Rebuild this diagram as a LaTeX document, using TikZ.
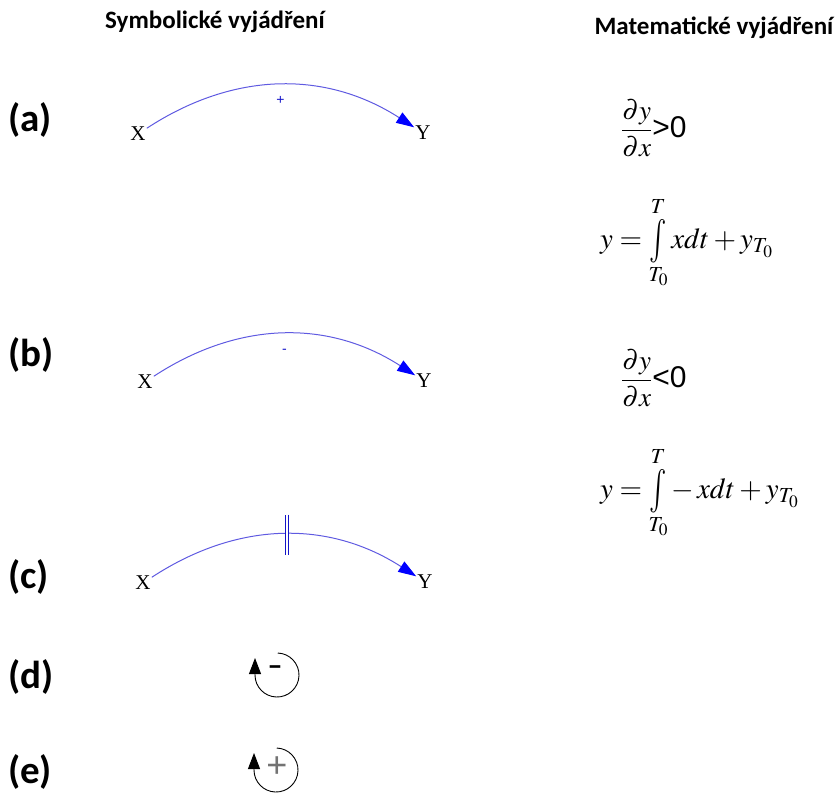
\documentclass[tikz,border=0pt]{standalone}
\usepackage{mathptmx}
\usepackage{amsmath}
\usepackage{fontspec}
\setmainfont{Carlito}
\newfontfamily\serifrm{Liberation Serif}
\newfontfamily\sansrm{Liberation Sans}
\usetikzlibrary{arrows.meta,positioning,calc}
\definecolor{linkblue}{RGB}{95,90,225}
\definecolor{tipblue}{RGB}{0,0,255}
\definecolor{barblue}{RGB}{20,20,200}
\newcommand{\tallint}{\mathop{\vcenter{\hbox{\scalebox{1}[1.5]{$\int$}}}}\limits}

\begin{document}
\begin{tikzpicture}[x=1pt, y=-1pt,
  head/.style={font=\fontsize{25}{28}\selectfont\bfseries},
  tag/.style={font=\fontsize{39}{42}\selectfont\bfseries, anchor=west, inner sep=0pt},
  var/.style={font=\fontsize{21}{24}\selectfont\serifrm, inner sep=1pt},
  link/.style={linkblue, line width=1pt,
    -{Triangle[length=18pt, width=12pt, color=tipblue]}},
  sign/.style={font=\fontsize{14}{16}\selectfont\sansrm, text=barblue, inner sep=1pt},
  bars/.style={barblue, double, line width=1pt, double distance=2.5pt},
  loop/.style={line width=0.9pt, -{Triangle[length=16pt, width=12pt]}},
  frac/.style={font=\fontsize{27}{30}\selectfont, anchor=west, inner sep=0pt},
  eqn/.style={font=\fontsize{29}{34}\selectfont, anchor=west, inner sep=0pt}
]
  \useasboundingbox (0,0) rectangle (837,793);

  % Headings
  \node[head] (hsym) at (215,22) {Symbolické vyjádření};
  \node[head] (hmat) at (714,28) {Matematické vyjádření};

  % Case labels
  \node[tag] (ta) at (8,120) {(a)};
  \node[tag] (tb) at (8,355) {(b)};
  \node[tag] (tc) at (8,577) {(c)};
  \node[tag] (td) at (8,677) {(d)};
  \node[tag] (te) at (8,772) {(e)};

  % Symbolic links
  \node[var] (xa) at (138,134) {X};
  \node[var] (ya) at (423,133) {Y};
  \node[var] (xb) at (145,382) {X};
  \node[var] (yb) at (424,381) {Y};
  \node[var] (xc) at (143,583) {X};
  \node[var] (yc) at (425,582) {Y};

  \draw[link] (xa) to[bend left=33] node[sign, below=10pt] {+} (ya);
  \draw[link] (xb) to[bend left=33] node[sign, below=14pt] {-} (yb);
  \draw[link] (xc) to[bend left=33] coordinate[pos=0.5] (mc) (yc);
  \draw[bars] ($(mc)+(3,-20)$) -- ($(mc)+(3,20)$);

  % Loops
  \coordinate (cd) at (277,675);
  \coordinate (ce) at (276,770);
  \draw[loop] (cd) ++(-88:22) arc[start angle=-88, end angle=180, radius=22] -- ++(0,-17);
  \node[font=\fontsize{30}{32}\selectfont\bfseries, inner sep=0pt] (md) at (275,671) {–};
  \draw[loop] (ce) ++(-88:22) arc[start angle=-88, end angle=180, radius=22] -- ++(0,-17);
  \node[font=\fontsize{36}{38}\selectfont\sansrm, text=black!55, inner sep=0pt] (pe) at (277,767) {+};

  % Mathematical form
  \node[frac] (fa) at (621,128) {$\dfrac{\partial y}{\partial x}$\fontsize{30}{32}\sansrm >0};
  \node[eqn] (ia) at (600,243) {$y=\tallint^{T}_{T_0} xdt + y_{T_0}$};
  \node[frac] (fb) at (621,378) {$\dfrac{\partial y}{\partial x}$\fontsize{30}{32}\sansrm <0};
  \node[eqn] (ib) at (600,493) {$y=\tallint^{T}_{T_0} -\, xdt + y_{T_0}$};
\end{tikzpicture}
\end{document}
